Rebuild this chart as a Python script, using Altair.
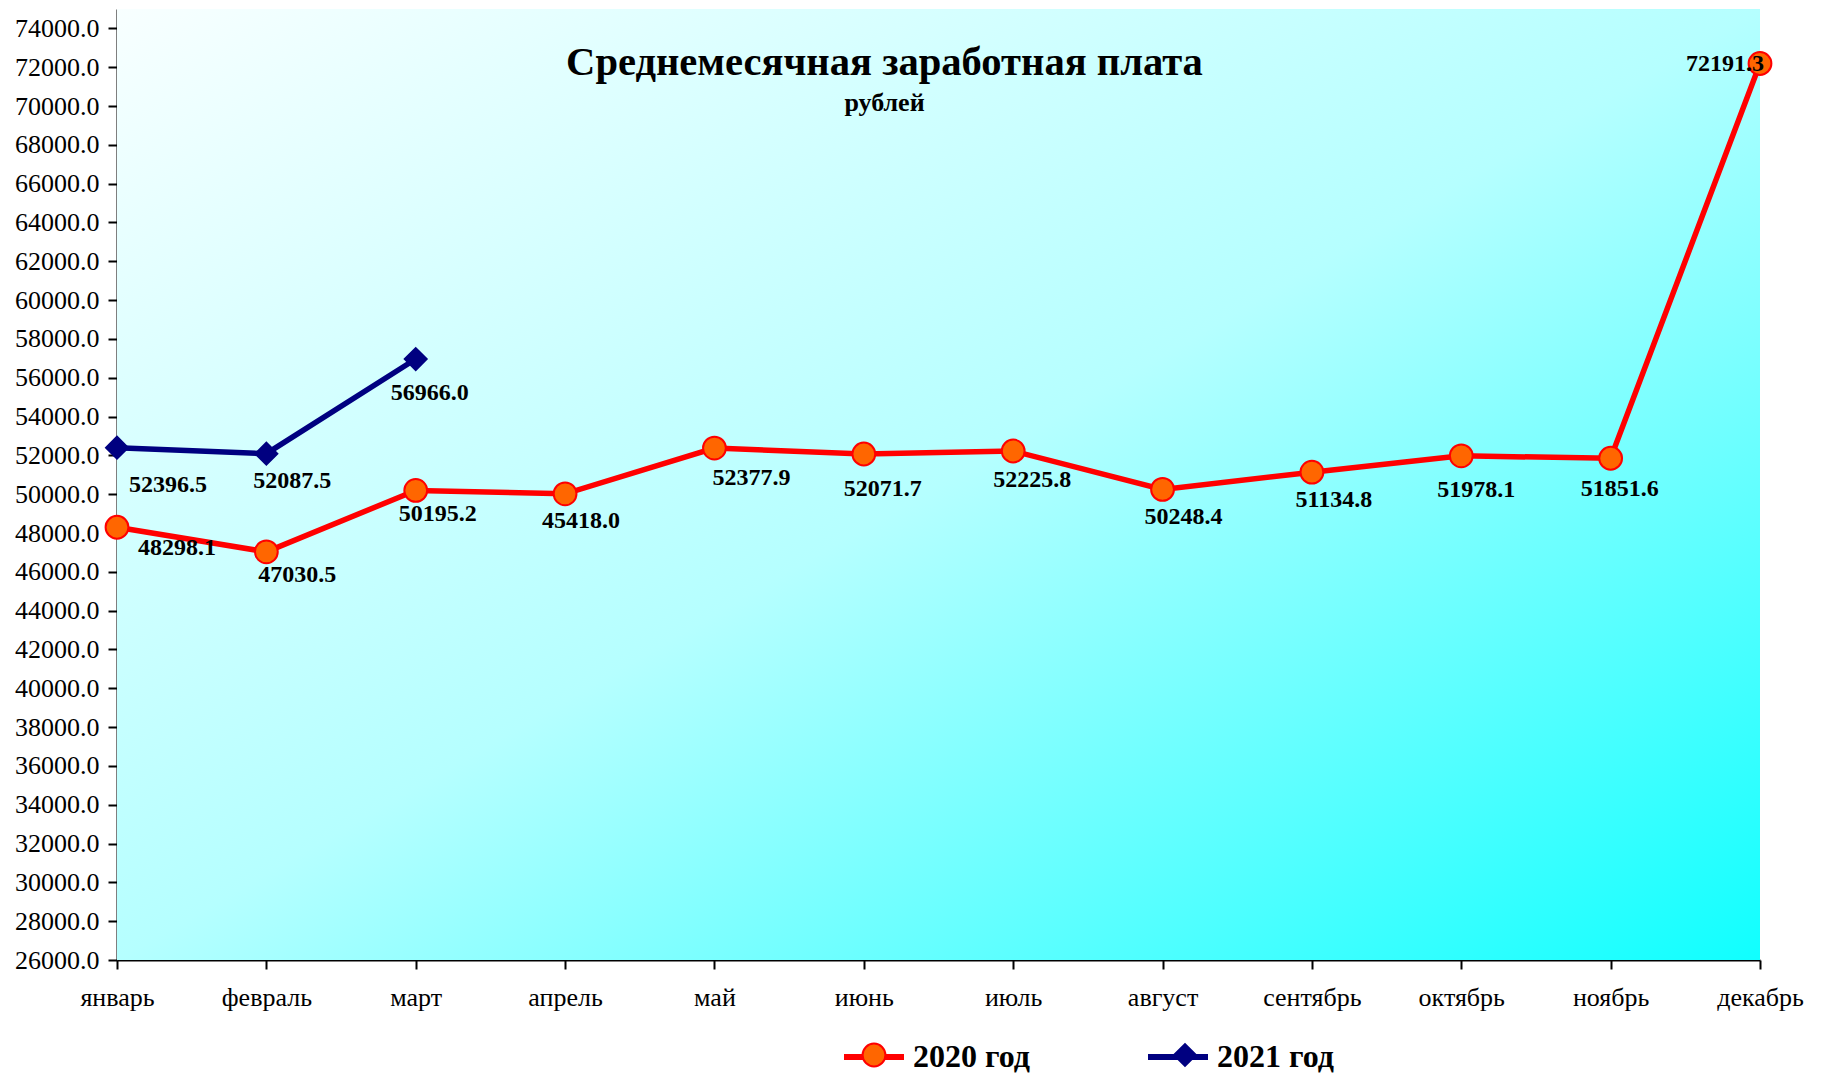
import altair as alt
import pandas as pd

months = ["январь", "февраль", "март", "апрель", "май", "июнь",
          "июль", "август", "сентябрь", "октябрь", "ноябрь", "декабрь"]
series_names = ["2020 год", "2021 год"]

values_2020 = [48298.1, 47030.5, 50195.2, 50020.0, 52377.9, 52071.7,
               52225.8, 50248.4, 51134.8, 51978.1, 51851.6, 72191.3]
labels_2020 = ["48298.1", "47030.5", "50195.2", "45418.0", "52377.9", "52071.7",
               "52225.8", "50248.4", "51134.8", "51978.1", "51851.6", "72191.3"]
values_2021 = [52396.5, 52087.5, 56966.0]
labels_2021 = ["52396.5", "52087.5", "56966.0"]

y_ticks = list(range(26000, 74001, 2000))

df2020 = pd.DataFrame({"month": months, "value": values_2020,
                       "label": labels_2020, "series": series_names[0]})
df2021 = pd.DataFrame({"month": months[:3], "value": values_2021,
                       "label": labels_2021, "series": series_names[1]})
df = pd.concat([df2020, df2021], ignore_index=True)

# label placement (pixel offsets from each point), styling only
label_offsets_2020 = [(60, 21), (31, 23), (22, 24), (16, 27), (37, 30), (19, 35),
                      (19, 29), (21, 28), (22, 28), (15, 34), (9, 31), (-35, 0)]
label_offsets_2021 = [(51, 37), (26, 27), (14, 34)]

W, H = 1643, 951
FONT = "Liberation Serif"

x_enc = alt.X("month:N", sort=months,
              scale=alt.Scale(type="point", padding=0, domain=months),
              axis=alt.Axis(title=None, labelAngle=0, labelFont=FONT, labelFontSize=26,
                            labelColor="black", labelPadding=15, tickColor="black",
                            tickSize=9, tickWidth=2, domainColor="black", domainWidth=2,
                            grid=False))
y_enc = alt.Y("value:Q",
              scale=alt.Scale(domain=[26000, 75000], nice=False, zero=False),
              axis=alt.Axis(title=None, values=y_ticks, format=".1f", labelFont=FONT,
                            labelFontSize=26, labelColor="black", labelPadding=9,
                            tickColor="black", tickSize=9, tickWidth=2,
                            domainColor="black", domainWidth=2, grid=False))

bg = alt.Chart(pd.DataFrame({"a": [0]})).mark_rect(
    fill=alt.Gradient(gradient="linear",
                      stops=[alt.GradientStop(color="#f8ffff", offset=0),
                             alt.GradientStop(color="#b5ffff", offset=0.5),
                             alt.GradientStop(color="#10ffff", offset=1)],
                      x1=0, y1=0, x2=1, y2=1)
).encode(x=alt.value(0), x2=alt.value(W), y=alt.value(0), y2=alt.value(H))

legend_common = dict(orient="none", direction="horizontal", title=None,
                     labelFont=FONT, labelFontSize=32, labelFontWeight="bold",
                     labelColor="black", padding=0, labelOffset=6)

line_legend = alt.Legend(legendX=724, legendY=1015, symbolType="stroke",
                         symbolSize=3600, symbolStrokeWidth=6, columnPadding=106,
                         **legend_common)
lines = alt.Chart(df).mark_line(strokeWidth=5.5).encode(
    x=x_enc, y=y_enc,
    stroke=alt.Stroke("series:N", scale=alt.Scale(domain=series_names,
                                                  range=["#ff0000", "#000080"]),
                      legend=line_legend))

# marker-only legend drawn over the line legend's symbols (labels left empty)
pt_legend = alt.Legend(legendX=741, legendY=1030, symbolStrokeWidth=2,
                       labelExpr="''", columnPadding=273, **legend_common)
points = alt.Chart(df).mark_point(filled=True, opacity=1, strokeWidth=2).encode(
    x=x_enc, y=y_enc,
    shape=alt.Shape("series:N", scale=alt.Scale(domain=series_names,
                                                range=["circle", "diamond"]),
                    legend=pt_legend),
    fill=alt.Fill("series:N", scale=alt.Scale(domain=series_names,
                                              range=["#ff6600", "#000080"]),
                  legend=pt_legend),
    stroke=alt.Stroke("series:N", scale=alt.Scale(domain=series_names,
                                                  range=["#ff0000", "#000080"]),
                      legend=pt_legend),
    size=alt.Size("series:N", scale=alt.Scale(domain=series_names, range=[520, 480]),
                  legend=pt_legend))


def label_layer(data, dx, dy):
    return alt.Chart(data).mark_text(font=FONT, fontSize=24, fontWeight="bold",
                                     color="black", dx=dx, dy=dy,
                                     align="center", baseline="middle").encode(
        x=x_enc, y=y_enc, text="label:N")


label_layers = []
for i, (ddx, ddy) in enumerate(label_offsets_2020):
    label_layers.append(label_layer(df2020.iloc[[i]], ddx, ddy))
for i, (ddx, ddy) in enumerate(label_offsets_2021):
    label_layers.append(label_layer(df2021.iloc[[i]], ddx, ddy))

chart = alt.layer(bg, lines, points, *label_layers).resolve_scale(
    stroke="independent", fill="independent", shape="independent", size="independent"
).properties(
    width=W, height=H,
    autosize=alt.AutoSizeParams(type="none"),
    padding={"left": 109, "top": 1, "right": 52, "bottom": 114},
    title=alt.TitleParams(text="Среднемесячная заработная плата", subtitle="рублей",
                          anchor="middle", frame="group", dx=-54, offset=-107,
                          font=FONT, fontSize=40.6, fontWeight="bold", color="black",
                          subtitleFont=FONT, subtitleFontSize=26,
                          subtitleFontWeight="bold", subtitleColor="black",
                          subtitlePadding=6)
).configure_view(stroke=None)

chart.save("out.html", embed_options={"renderer": "svg", "actions": False})
